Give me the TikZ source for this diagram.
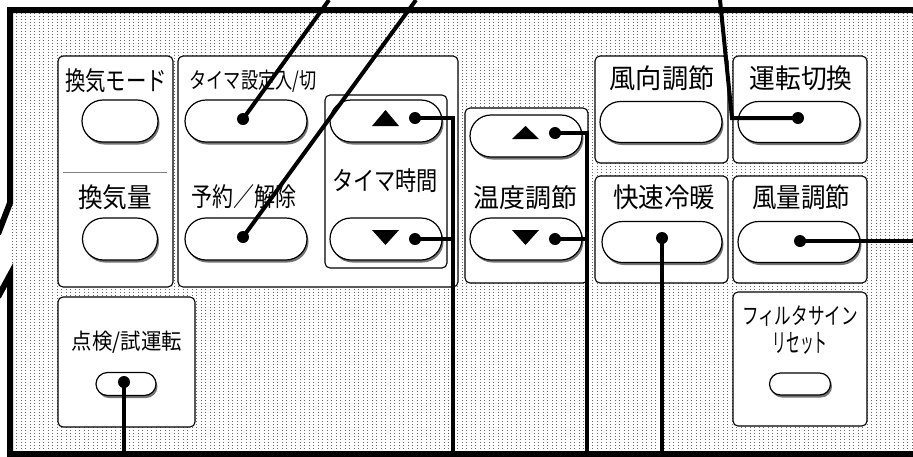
\documentclass[tikz,border=0pt]{standalone}
\usepackage{fontspec}
\usepackage{graphicx}
\newfontfamily\jp{Noto Sans CJK JP}
\usetikzlibrary{shapes.misc,shadows}
\tikzset{
  panel/.style={rectangle, draw=black, line width=1.1pt, fill=white, rounded corners=5pt, inner sep=0pt},
  btn/.style={rounded rectangle, draw=black, line width=1.2pt, fill=white, inner sep=0pt,
    drop shadow={shadow xshift=1.5pt, shadow yshift=-2.5pt, fill=black!55, opacity=1}},
  conn/.style={line width=4pt, line cap=butt, line join=miter},
  dotc/.style={fill=black},
  lbl/.style={inner sep=0pt, font=\jp},
  tri/.style={fill=black},
  frame/.style={line width=6pt, line join=miter},
  bgdot/.style={black!60, line width=0.8pt, dash pattern=on 0.8pt off 2.2pt},
}
\newcommand\fitw[3]{\resizebox{#1pt}{\height}{\fontsize{#2}{#2}\selectfont #3}}
\begin{document}
\begin{tikzpicture}[x=1pt,y=-1pt]
\useasboundingbox (0,0) rectangle (913,456);
\clip (0,0) rectangle (913,456);
% background dots
\begin{scope}
\clip (10,10) -- (913,10) -- (913,456) -- (10,456) -- (10,275) -- (0,292) -- (0,229) -- (10,203) -- cycle;
\foreach \x in {12,16.5,...,913} \draw[bgdot] (\x,10) -- (\x,456);
\end{scope}
% panels
\node[panel, minimum width=115pt, minimum height=231pt] (pA) at (115.5,171.5) {};
\node[panel, minimum width=280pt, minimum height=231pt] (pB) at (318,171.5) {};
\node[panel, minimum width=122pt, minimum height=173pt] (pC) at (386,181.5) {};
\node[panel, minimum width=123pt, minimum height=175pt] (pD) at (526.5,195.5) {};
\node[panel, minimum width=133pt, minimum height=107pt] (pE) at (661.5,109.5) {};
\node[panel, minimum width=134pt, minimum height=107pt] (pF) at (800,109.5) {};
\node[panel, minimum width=133pt, minimum height=107pt] (pG) at (661.5,229.5) {};
\node[panel, minimum width=134pt, minimum height=107pt] (pH) at (800,229.5) {};
\node[panel, minimum width=134pt, minimum height=134pt] (pI) at (800,359) {};
\node[panel, minimum width=137pt, minimum height=130pt] (pJ) at (126.5,362) {};
\draw[black!50, line width=1pt] (63,172) -- (167,172);
% buttons
\node[btn, minimum width=76pt, minimum height=42pt] (b1) at (120,121) {};
\node[btn, minimum width=122pt, minimum height=42pt] (b2) at (246,121) {};
\node[btn, minimum width=75pt, minimum height=42pt] (b3) at (120,239) {};
\node[btn, minimum width=122pt, minimum height=42pt] (b4) at (246,239) {};
\node[btn, minimum width=112pt, minimum height=42pt] (b5) at (386,121) {};
\node[btn, minimum width=112pt, minimum height=42pt] (b6) at (386,239) {};
\node[btn, minimum width=112pt, minimum height=42pt] (b7) at (526,136) {};
\node[btn, minimum width=112pt, minimum height=42pt] (b8) at (526,239) {};
\node[btn, minimum width=122pt, minimum height=41pt] (b9) at (661,122) {};
\node[btn, minimum width=122pt, minimum height=41pt] (b10) at (799,122) {};
\node[btn, minimum width=120pt, minimum height=41pt] (b11) at (662,242) {};
\node[btn, minimum width=122pt, minimum height=41pt] (b12) at (799,242) {};
\node[btn, minimum width=61pt, minimum height=22pt] (b13) at (800,384) {};
\node[btn, minimum width=60pt, minimum height=23pt] (b14) at (126,384) {};
% triangles
\fill[tri] (372,126) -- (399,126) -- (385.5,110) -- cycle;
\fill[tri] (372,230) -- (399,230) -- (385.5,245) -- cycle;
\fill[tri] (512,139) -- (539,139) -- (525.5,126) -- cycle;
\fill[tri] (512,230) -- (539,230) -- (525.5,245) -- cycle;
% labels
\node[lbl] (t1) at (116,81) {\fitw{102}{26}{換気モード}};
\node[lbl] (t2) at (253,81) {\fitw{127}{22}{タイマ設定入/切}};
\node[lbl] (t3) at (115,197) {\fitw{74}{27}{換気量}};
\node[lbl] (t4) at (244,197) {\fitw{105}{26}{予約／解除}};
\node[lbl] (t5) at (385,181) {\fitw{106}{26}{タイマ時間}};
\node[lbl] (t6) at (525,198) {\fitw{104}{26}{温度調節}};
\node[lbl] (t7) at (662,78) {\fitw{105}{27}{風向調節}};
\node[lbl] (t8) at (801,78) {\fitw{103}{27}{運転切換}};
\node[lbl] (t9) at (664,197) {\fitw{102}{27}{快速冷暖}};
\node[lbl] (t10) at (801,197) {\fitw{98}{27}{風量調節}};
\node[lbl] (t11) at (800,316) {\fitw{116}{23}{フィルタサイン}};
\node[lbl] (t12) at (800,343) {\fitw{55}{26}{リセット}};
\node[lbl] (t13) at (127,342) {\fitw{110}{22}{点検/試運転}};
% connector points
\coordinate (d1) at (243,119);  \coordinate (e1) at (329,0);
\coordinate (d2) at (243,237);  \coordinate (e2) at (416,0);
\coordinate (d3) at (798,118);  \coordinate (k3) at (732,118); \coordinate (e3) at (720,0);
\coordinate (d4) at (415,118);  \coordinate (k4) at (453,118); \coordinate (e4) at (453,456);
\coordinate (d5) at (415,239);  \coordinate (k5) at (455,239);
\coordinate (d6) at (555,133);  \coordinate (k6) at (587,133); \coordinate (e6) at (587,456);
\coordinate (d7) at (555,239);  \coordinate (k7) at (589,239);
\coordinate (d8) at (662,238);  \coordinate (e8) at (662,456);
\coordinate (d9) at (800,241);  \coordinate (e9) at (913,241);
\coordinate (d10) at (124,382); \coordinate (e10) at (124,456);
\draw[conn] (d1) -- (e1);
\draw[conn] (d2) -- (e2);
\draw[conn] (d3) -- (k3) -- (e3);
\draw[conn] (d4) -- (k4) -- (e4);
\draw[conn] (d5) -- (k5);
\draw[conn] (d6) -- (k6) -- (e6);
\draw[conn] (d7) -- (k7);
\draw[conn] (d8) -- (e8);
\draw[conn] (d9) -- (e9);
\draw[conn] (d10) -- (e10);
\foreach \d in {d1,d2,d3,d4,d5,d6,d7,d8,d9,d10} \fill[dotc] (\d) circle (6pt);
% frame
\draw[frame] (-2,234) -- (10,203) -- (10,10) -- (920,10);
\draw[frame] (-2,297) -- (10,275) -- (10,454) -- (920,454);
\end{tikzpicture}
\end{document}
